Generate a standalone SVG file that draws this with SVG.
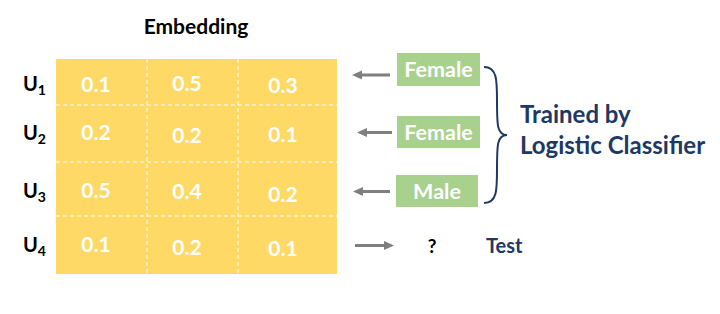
<svg xmlns="http://www.w3.org/2000/svg" width="720" height="314" viewBox="0 0 720 314">
<defs>
<style>
.t{font-family:Lato,"Open Sans","Liberation Sans",sans-serif;font-weight:bold}
.v{fill:#fff;font-size:21px;text-anchor:middle}
.u{fill:#000;font-size:20px}
.us{fill:#000;font-size:14px}
.lab{fill:#fff;font-size:21.5px;text-anchor:middle}
.navy{fill:#203864}
.grid{stroke:#fff;stroke-width:1;stroke-dasharray:4 3;fill:none}
.arr{stroke:#7f7f7f;stroke-width:3;fill:none}
</style>
<marker id="ah" markerWidth="10" markerHeight="10" refX="6" refY="5" orient="auto" markerUnits="userSpaceOnUse">
<path d="M0,0.5 L10,5 L0,9.5 Z" fill="#7f7f7f"/>
</marker>
</defs>
<rect width="720" height="314" fill="#fff"/>
<text class="t" x="196" y="34" font-size="21" text-anchor="middle" fill="#000">Embedding</text>
<g id="matrix">
<rect x="56" y="59" width="281" height="215" fill="#ffd966"/>
<path class="grid" d="M56,105H337M56,162H337M56,216H337M147,59V274M238,59V274"/>
<text class="t v" x="96" y="92">0.1</text>
<text class="t v" x="187" y="90.5">0.5</text>
<text class="t v" x="283" y="92.5">0.3</text>
<text class="t v" x="96" y="140">0.2</text>
<text class="t v" x="187" y="142.5">0.2</text>
<text class="t v" x="283" y="141.5">0.1</text>
<text class="t v" x="96" y="198">0.5</text>
<text class="t v" x="187" y="199">0.4</text>
<text class="t v" x="283" y="201.5">0.2</text>
<text class="t v" x="96" y="251.5">0.1</text>
<text class="t v" x="187" y="255">0.2</text>
<text class="t v" x="283" y="256">0.1</text>
</g>
<g id="rowlabels">
<text class="t u" x="23" y="91">U<tspan class="us" dy="4">1</tspan></text>
<text class="t u" x="23" y="140">U<tspan class="us" dy="4">2</tspan></text>
<text class="t u" x="23" y="198">U<tspan class="us" dy="4">3</tspan></text>
<text class="t u" x="23" y="251.5">U<tspan class="us" dy="4">4</tspan></text>
</g>
<g id="label1">
<rect x="397" y="53" width="83" height="33" fill="#a9d18e"/>
<text class="t lab" x="438.5" y="76.5">Female</text>
</g>
<g id="label2">
<rect x="397" y="116" width="83" height="32" fill="#a9d18e"/>
<text class="t lab" x="438.5" y="139.5">Female</text>
</g>
<g id="label3">
<rect x="396" y="175" width="82" height="32" fill="#a9d18e"/>
<text class="t lab" x="437" y="198.5">Male</text>
</g>
<g id="test">
<text class="t" x="432" y="252.5" font-size="19" text-anchor="middle" fill="#000">?</text>
<text class="t navy" x="486" y="252.5" font-size="20">Test</text>
</g>
<g id="classifier">
<path d="M484,67 C497,67 497,80 497,100 C497,125 497,135 507,135 C497,135 497,145 497,170 C497,190 497,203 484,203" fill="none" stroke="#203864" stroke-width="2"/>
<text class="t navy" x="520" y="122.5" font-size="24">Trained by</text>
<text class="t navy" x="520" y="154" font-size="24">Logistic Classifier</text>
</g>
<g id="connectors">
<line class="arr" x1="390" y1="75" x2="356" y2="75" marker-end="url(#ah)"/>
<line class="arr" x1="392" y1="132.5" x2="361" y2="132.5" marker-end="url(#ah)"/>
<line class="arr" x1="390" y1="191.5" x2="357" y2="191.5" marker-end="url(#ah)"/>
<line class="arr" x1="355" y1="245.5" x2="390" y2="245.5" marker-end="url(#ah)"/>
</g>
</svg>
